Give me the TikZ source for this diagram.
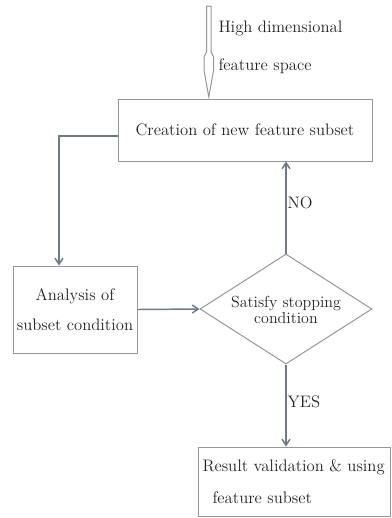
\documentclass[tikz,border=0pt]{standalone}
\usetikzlibrary{shapes.geometric,arrows.meta}

\definecolor{boxgray}{RGB}{150,150,150}
\definecolor{flowgray}{RGB}{110,122,135}
\definecolor{textdark}{RGB}{35,35,35}

\tikzset{every picture/.style={line width=0.75pt}}
\tikzset{
  stepbox/.style={draw=boxgray, rectangle, inner sep=0pt, text=textdark},
  flow/.style={draw=flowgray, line width=1.1pt, -{Straight Barb[length=4.5pt,width=6pt]}},
  lbl/.style={inner sep=0.75pt, text=textdark, font=\fontsize{12.5}{15}\selectfont}
}

\begin{document}
\begin{tikzpicture}[x=0.75pt,y=0.75pt,yscale=-1,xscale=1,font=\fontsize{12.5}{15}\selectfont]
				\useasboundingbox (0,0) rectangle (392,518);
				%Shape: Input arrow
				\draw [draw=boxgray, fill=white] (206.5,6) -- (206.5,52) -- (204,57) -- (204,70) -- (208.8,97) -- (213.6,70) -- (213.6,57) -- (211.1,52) -- (211.1,6) -- cycle ;
				\coordinate (inputtip) at (208.8,97);
				% Text Node
				\draw (217,28) node [anchor=west][lbl] (high) {High dimensional};
				% Text Node
				\draw (217,66) node [anchor=west][lbl] (space) {feature space};
				%Shape: Rectangle
				\draw (245,130) node [stepbox, minimum width=190.5pt, minimum height=46.5pt] (creation) {Creation of new feature subset};
				%Shape: Rectangle
				\draw (75,309.5) node [stepbox, minimum width=93pt, minimum height=65.25pt, align=center, font=\fontsize{12.5}{22}\selectfont] (analysis) {Analysis of\\subset condition};
				%Shape: Diamond
				\draw (286,309) node [draw=boxgray, diamond, inner sep=0pt, minimum width=129pt, minimum height=82.5pt] (stop) {};
				% Text Node
				\draw (286,310) node [lbl, align=center, font=\fontsize{12}{12.5}\selectfont] (stoptext) {Satisfy stopping\\condition};
				%Shape: Rectangle
				\draw (294,481.5) node [stepbox, minimum width=144pt, minimum height=51.75pt] (result) {};
				% Text Node
				\draw (201,467) node [anchor=west][lbl] (resultA) {Result validation \& using};
				% Text Node
				\draw (211,498) node [anchor=west][lbl] (resultB) {feature subset};
				%Connectors
				\draw [flow] ([yshift=4.5pt]creation.west) -| ([xshift=-12pt]analysis.north);
				\draw [flow] (analysis.east) -- (stop.west);
				\draw [flow] (stop.north) -- (stop.north |- creation.south) node [pos=0.55, anchor=west, lbl] (no) {NO};
				\draw [flow] (stop.south) -- (stop.south |- result.north) node [pos=0.45, anchor=west, lbl] (yes) {YES};
			\end{tikzpicture}
\end{document}
